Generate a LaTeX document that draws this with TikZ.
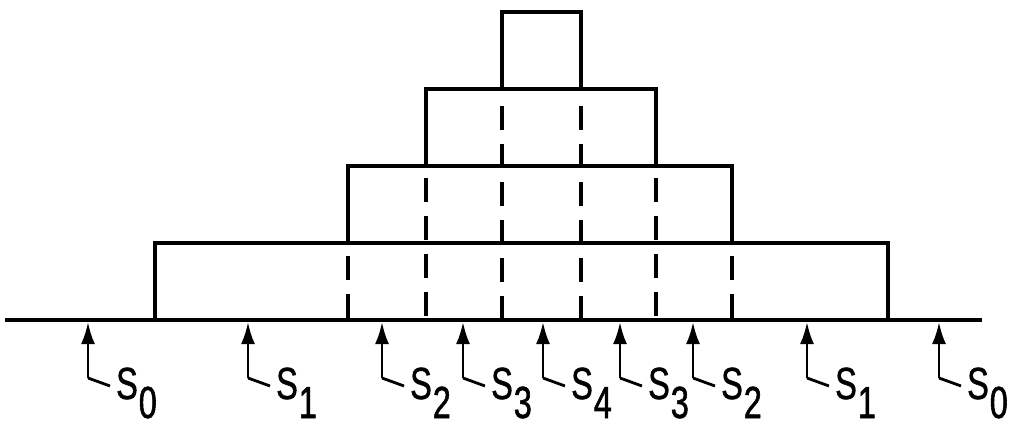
\documentclass[tikz,border=0pt]{standalone}
\usepackage{fontspec}
\setmainfont[FakeStretch=0.72,FakeBold=1.2]{Liberation Sans}
\usetikzlibrary{arrows.meta}
\tikzset{
  solidline/.style={line width=3.2pt, line cap=rect},
  dashline/.style={line width=3.2pt, dash pattern=on 24pt off 14pt},
  tap/.style={line width=2.8pt},
  lead/.style={line width=2.8pt},
  lbl/.style={anchor=base west, inner sep=0pt, font=\fontsize{45}{45}\selectfont}
}
\newcommand{\slabel}[1]{S\kern1pt\raisebox{-19pt}{#1}}
\begin{document}
\begin{tikzpicture}[x=1pt,y=-1pt]
\useasboundingbox (0,0) rectangle (1015,432);
% baseline
\coordinate (bl) at (7,320);
\coordinate (br) at (980,320);
\draw[solidline] (bl) -- (br);
% steps
\draw[solidline] (155,320) -- (155,243) -- (888,243) -- (888,320);
\draw[solidline] (348,243) -- (348,166) -- (732,166) -- (732,243);
\draw[solidline] (426,166) -- (426,89) -- (656,89) -- (656,166);
\draw[solidline] (502,89) -- (502,12) -- (581,12) -- (581,89);
% dashed lines
\draw[dashline] (502,106) -- (502,322);
\draw[dashline] (581,106) -- (581,322);
\draw[dashline] (426,178) -- (426,322);
\draw[dashline] (656,178) -- (656,322);
\draw[dashline] (348,256) -- (348,322);
\draw[dashline] (732,256) -- (732,322);
% arrows and labels
\foreach \x/\lab [count=\i] in {88/0,248/1,382/2,463/3,543/4,620/3,693/2,807/1,939/0}{
  \coordinate (t\i) at (\x,322);
  \coordinate (c\i) at (\x,378);
  \coordinate (e\i) at (\x+22,386);
  \draw[tap, arrows={-Latex[length=22pt,width=14pt]}] (c\i) -- (t\i);
  \draw[lead] (c\i) -- (e\i);
  \node[lbl] (s\i) at ([xshift=6pt,yshift=-13pt]e\i) {\slabel{\lab}};
}
\end{tikzpicture}
\end{document}
